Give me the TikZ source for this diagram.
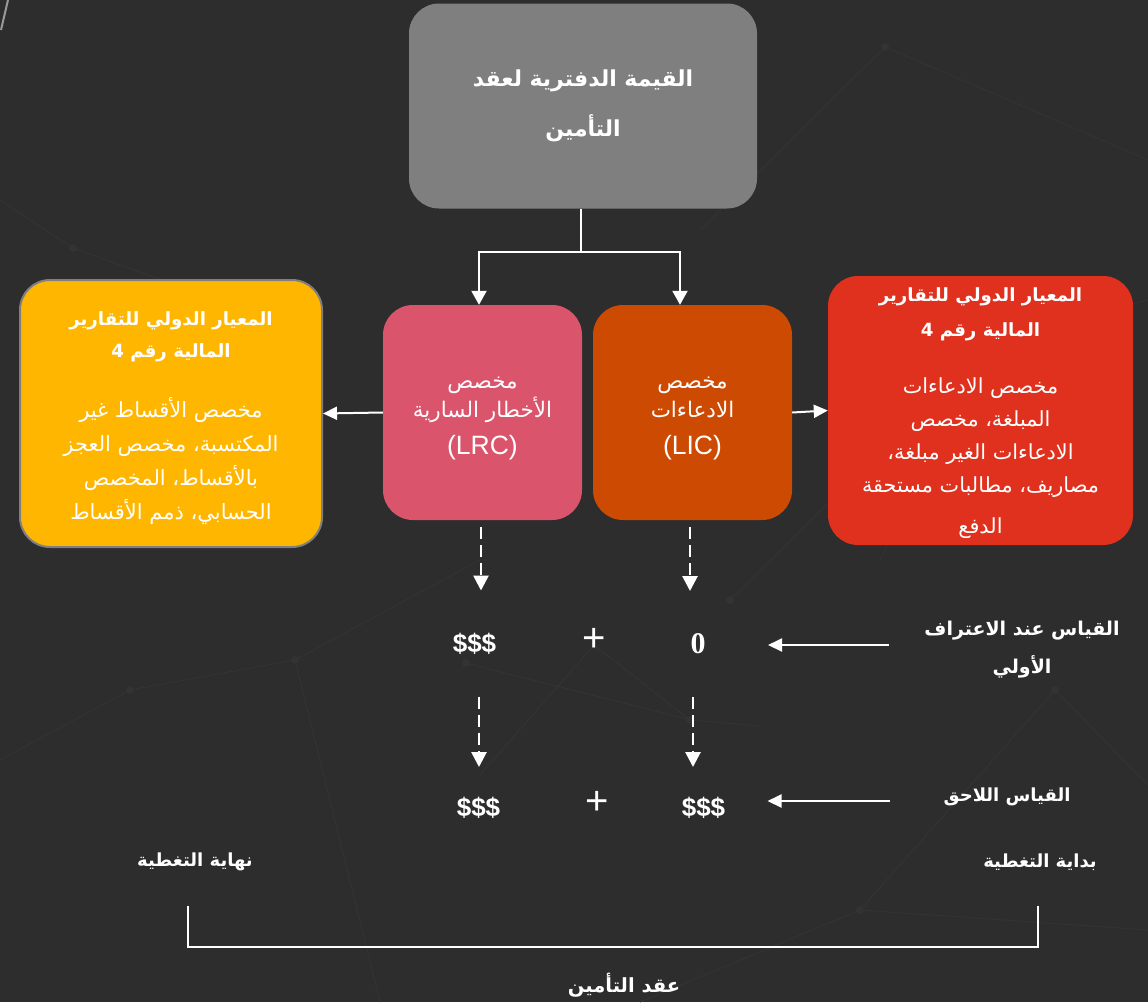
\documentclass[tikz,border=0pt]{standalone}
\usepackage{fontspec}
\setmainfont{Liberation Sans}
\newfontfamily\arabicfont[Script=Arabic]{DejaVu Sans}
\newfontfamily\numfont{Liberation Serif}
\TeXXeTstate=1
\usepackage{xcolor}
\usepackage{tikz}
\usetikzlibrary{calc,arrows.meta,positioning}

\definecolor{bgdark}{HTML}{2D2D2D}
\definecolor{netgray}{HTML}{333333}
\definecolor{bookgray}{HTML}{7F7F7F}
\definecolor{lrcpink}{HTML}{DA546C}
\definecolor{licorange}{HTML}{CD4A02}
\definecolor{ifrsyellow}{HTML}{FFB600}
\definecolor{ifrsred}{HTML}{E0311E}

% one right-to-left line of Arabic
\newcommand{\ar}[1]{{\arabicfont\beginR #1\endR}}
\newcommand{\arsize}[1]{\fontsize{#1}{#1}\selectfont}

\tikzset{
    card/.style={rounded corners=30pt, inner sep=0pt},
    cardtext/.style={text=white, align=center, inner sep=0pt},
    flow/.style={white, line width=2pt, -{Triangle[width=15pt,length=14pt]}},
    dflow/.style={white, line width=2.7pt, dash pattern=on 12pt off 6pt, -{Triangle[width=15pt,length=15pt]}},
    hflow/.style={white, line width=2pt, -{Triangle[width=13pt,length=14pt]}},
    amount/.style={text=white, font=\bfseries\fontsize{26}{28}\selectfont},
    sumsign/.style={text=white, font=\fontsize{40}{40}\selectfont},
    steplabel/.style={text=white, align=center, font=\bfseries\fontsize{18}{38}\selectfont}
}

\begin{document}
\begin{tikzpicture}[x=1pt, y=-1pt]
    % Background
    \fill[bgdark] (0,0) rectangle (1148,1002);
    \useasboundingbox (0,0) rectangle (1148,1002);

    % Faint network in the background
    \draw[netgray, line width=1pt] (885,47) -- (1148,160) (885,47) -- (700,230) (73,248) -- (0,200)
        (73,248) -- (300,330) (130,690) -- (295,660) -- (480,560) (130,690) -- (0,760)
        (295,660) -- (380,1002) (985,347) -- (1148,300) (985,347) -- (880,560) (1055,690) -- (1148,785)
        (1055,690) -- (860,910) -- (640,1002) (860,910) -- (1148,930) (730,600) -- (985,347)
        (466,663) -- (690,720) -- (760,726) (480,775) -- (594,645) -- (690,720);
    \foreach \p in {(885,47),(73,248),(130,690),(295,660),(1055,690),(985,347),(860,910),(730,600),(466,663),(690,720)}
        \fill[netgray] \p circle (4pt);
    \draw[gray!80, line width=2pt] (8,0) -- (1,30);

    % Carrying amount of the contract
    \node[card, fill=bookgray, minimum width=348pt, minimum height=205pt] (book) at (583,106) {};
    \node[cardtext, font=\bfseries\fontsize{22}{50}\selectfont] (booktext) at (book.center)
          {\ar{القيمة الدفترية لعقد}\\\ar{التأمين}};

    % LRC and LIC
    \node[card, fill=lrcpink, minimum width=199pt, minimum height=215pt] (lrc) at (482.5,412.5) {};
    \node[cardtext, font=\fontsize{21.5}{29}\selectfont] (lrctext) at ([yshift=-6pt]lrc.center)
          {\ar{مخصص}\\\ar{الأخطار السارية}\\[8pt]{\arsize{26.5}(LRC)}};
    \node[card, fill=licorange, minimum width=199pt, minimum height=215pt] (lic) at (692.5,412.5) {};
    \node[cardtext, font=\fontsize{21.5}{29}\selectfont] (lictext) at ([yshift=-6pt]lic.center)
          {\ar{مخصص}\\\ar{الادعاءات}\\[8pt]{\arsize{26.5}(LIC)}};

    % IFRS 4 counterparts
    \node[card, fill=ifrsyellow, draw=bookgray, line width=2pt, minimum width=302pt, minimum height=267pt] (ifrsl) at (171,413.5) {};
    \node[cardtext, font=\fontsize{21}{34}\selectfont] (ifrsltext) at ([yshift=-5pt]ifrsl.center)
          {\ar{\bfseries\arsize{18.2}المعيار الدولي للتقارير}\\[-2pt]\ar{\bfseries\arsize{18.2}المالية رقم 4}\\[26pt]
           \ar{مخصص الأقساط غير}\\\ar{المكتسبة، مخصص العجز}\\\ar{بالأقساط، المخصص}\\\ar{الحسابي، ذمم الأقساط}};
    \node[card, fill=ifrsred, minimum width=305pt, minimum height=269pt] (ifrsr) at (980.5,410.5) {};
    \node[cardtext, font=\fontsize{20.8}{33}\selectfont] (ifrsrtext) at ([yshift=-3pt]ifrsr.center)
          {\ar{\bfseries\arsize{18.2}المعيار الدولي للتقارير}\\[2pt]\ar{\bfseries\arsize{18.2}المالية رقم 4}\\[24pt]
           \ar{مخصص الادعاءات}\\\ar{المبلغة، مخصص}\\\ar{الادعاءات الغير مبلغة،}\\\ar{مصاريف، مطالبات مستحقة}\\[8pt]\ar{الدفع}};

    % Measurement rows
    \node[amount] (initlrc) at (474.5,643.5) {\$\$\$};
    \node[sumsign] (initplus) at (594,640) {+};
    \node[text=white, font=\numfont\bfseries\fontsize{30}{32}\selectfont] (initlic) at (698,644) {0};
    \node[steplabel, font=\bfseries\fontsize{19}{38}\selectfont] (initlab) at (1022,650) {\ar{القياس عند الاعتراف}\\\ar{الأولي}};

    \node[amount] (sublrc) at (478.5,808) {\$\$\$};
    \node[sumsign] (subplus) at (597.5,803) {+};
    \node[amount] (sublic) at (703.5,808) {\$\$\$};
    \node[steplabel] (sublab) at (1007,797) {\ar{القياس اللاحق}};

    % Coverage period
    \node[steplabel] (covend) at (195,862) {\ar{نهاية التغطية}};
    \node[steplabel] (covstart) at (1040,862) {\ar{بداية التغطية}};
    \node[steplabel, font=\bfseries\fontsize{19.5}{24}\selectfont] (contract) at (624,985) {\ar{عقد التأمين}};
    \draw[white, line width=2pt] (188,906) -- (188,947) -- (1038,947) -- (1038,906);

    % Connectors
    \coordinate (split) at (581,252);
    \draw[white, line width=2pt] (book.south -| split) -- (split);
    \draw[flow] (split) -| ([xshift=-3.5pt]lrc.north);
    \draw[flow] (split) -| ([xshift=-12.5pt]lic.north);
    \draw[hflow] (lrc.west) -- (ifrsl.east);
    \draw[hflow] (lic.east) -- (ifrsr.west);

    \draw[dflow, shorten <=7pt, shorten >=53pt] ([xshift=-1.5pt]lrc.south) -- ([xshift=-1.5pt]lrc.south |- initlrc);
    \draw[dflow, shorten <=7pt, shorten >=53pt] ([xshift=-2.5pt]lic.south) -- ([xshift=-2.5pt]lic.south |- initlic);
    \draw[dflow, shorten <=53pt, shorten >=41pt] ([xshift=-3.5pt]lrc.south |- initlrc) -- ([xshift=-3.5pt]lrc.south |- sublrc);
    \draw[dflow, shorten <=53pt, shorten >=41pt] ([xshift=0.5pt]lic.south |- initlic) -- ([xshift=0.5pt]lic.south |- sublic);

    \draw[hflow, shorten >=70pt] ($(initlab.west |- initlic)+(-32,1)$) -- ($(initlic)+(0,1)$);
    \draw[hflow, shorten >=64pt] ($(sublab.west |- sublic)+(-50,-7)$) -- ($(sublic)+(0,-7)$);
\end{tikzpicture}
\end{document}
